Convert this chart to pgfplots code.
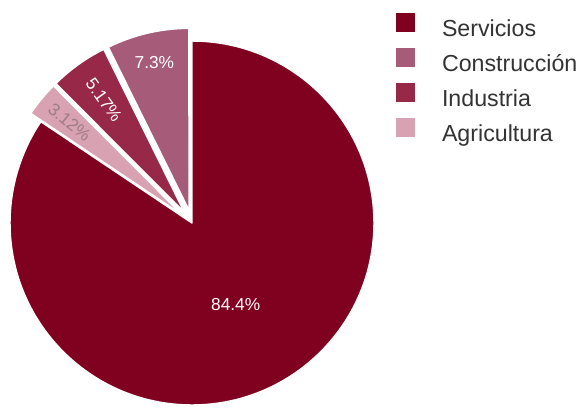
\documentclass[border=0pt]{standalone}
\usepackage{pgfplots}
\usepackage{pgfplotstable}
\pgfplotsset{compat=1.18}
\usepackage{fontspec}
\setmainfont{Liberation Sans}
\definecolor{cServ}{HTML}{80001F}
\definecolor{cCons}{HTML}{A65C78}
\definecolor{cInd}{HTML}{982848}
\definecolor{cAgr}{HTML}{D8A2B2}
\definecolor{legtext}{HTML}{333333}
\definecolor{lblAgr}{HTML}{9C7C86}

% slices in drawing order (clockwise from 12 o'clock)
\pgfplotstableread{
name         value colour exploded labr  rot   lcol
Servicios    84.4  cServ  0        0.51  0     white
Agricultura  3.12  cAgr   1        0.80  -39.5 lblAgr
Industria    5.17  cInd   1        0.76  -54.4 white
Construccion 7.3   cCons  1        0.835 0     white
}\piedata

\begin{document}
\begin{tikzpicture}
\pgfplotstablegetrowsof{\piedata}
\pgfmathtruncatemacro\lastrow{\pgfplotsretval-1}
\xdef\cumangle{90}
\foreach \i in {0,...,\lastrow}{
  \pgfplotstablegetelem{\i}{value}\of\piedata
  \expandafter\xdef\csname val\i\endcsname{\pgfplotsretval}
  \pgfmathsetmacro\enda{\cumangle-3.6*\pgfplotsretval}
  \pgfmathsetmacro\mida{(\cumangle+\enda)/2}
  \expandafter\xdef\csname sa\i\endcsname{\cumangle}
  \expandafter\xdef\csname ea\i\endcsname{\enda}
  \expandafter\xdef\csname ma\i\endcsname{\mida}
  \xdef\cumangle{\enda}
  \pgfplotstablegetelem{\i}{colour}\of\piedata
  \expandafter\xdef\csname col\i\endcsname{\pgfplotsretval}
  \pgfplotstablegetelem{\i}{exploded}\of\piedata
  \pgfmathsetmacro\offs{9.75*\pgfplotsretval}
  \expandafter\xdef\csname off\i\endcsname{\offs pt}
  \pgfplotstablegetelem{\i}{labr}\of\piedata
  \pgfmathsetmacro\lr{\offs+136.5*\pgfplotsretval}
  \expandafter\xdef\csname lr\i\endcsname{\lr pt}
  \pgfplotstablegetelem{\i}{rot}\of\piedata
  \expandafter\xdef\csname rot\i\endcsname{\pgfplotsretval}
  \pgfplotstablegetelem{\i}{lcol}\of\piedata
  \expandafter\xdef\csname lcol\i\endcsname{\pgfplotsretval}
}
\begin{axis}[
  x=0.75pt, y=0.75pt,
  xmin=0, xmax=584, ymin=0, ymax=408,
  hide axis, clip=false,
  legend style={at={(axis cs:396,395)}, anchor=north west,
    draw=none, fill=none, inner sep=0pt, outer sep=0pt,
    row sep=4.8pt,
    /tikz/every odd column/.style={column sep=19.9pt},
    font=\fontsize{17.4}{20}\selectfont, text=legtext,
    nodes={inner sep=0pt, text height=13pt, text depth=3.5pt}},
  legend cell align=left,
  legend image code/.code={\fill[#1] (0pt,-1.4pt) rectangle (14.6pt,13.2pt);},
]
\path (0,0) rectangle (584,408);
\pgfplotsinvokeforeach{0,...,3}{
  \fill[fill=\csname col#1\endcsname, draw=white, line width=1.1pt, line join=round]
    ([shift={(\csname ma#1\endcsname:\csname off#1\endcsname)}]192,185)
      -- ++(\csname sa#1\endcsname:136.5pt)
      arc[start angle=\csname sa#1\endcsname, end angle=\csname ea#1\endcsname, radius=136.5pt]
      -- cycle;
}
\pgfplotsinvokeforeach{0,...,3}{
  \node[text=\csname lcol#1\endcsname, font=\fontsize{13}{15}\selectfont, rotate=\csname rot#1\endcsname, inner sep=0pt]
    at ([shift={(\csname ma#1\endcsname:\csname lr#1\endcsname)}]192,185) {\csname val#1\endcsname\%};
}
\addlegendimage{fill=cServ, draw=none}
\addlegendentry{Servicios}
\addlegendimage{fill=cCons, draw=none}
\addlegendentry{Construcción}
\addlegendimage{fill=cInd, draw=none}
\addlegendentry{Industria}
\addlegendimage{fill=cAgr, draw=none}
\addlegendentry{Agricultura}
\end{axis}
\end{tikzpicture}
\end{document}
